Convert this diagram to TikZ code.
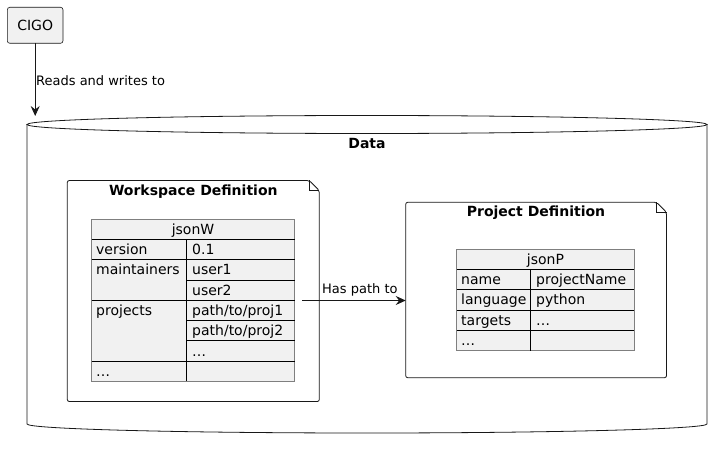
\documentclass[tikz,border=0pt]{standalone}
\usepackage{fontspec}
\setmainfont{DejaVu Sans}
\usetikzlibrary{arrows.meta}
\definecolor{boxfill}{HTML}{F1F1F1}
\definecolor{edge}{HTML}{181818}
\definecolor{tgray}{HTML}{7F7F7F}
\tikzset{
  boxstyle/.style={draw=edge,fill=boxfill,rounded corners=2.5pt,line width=0.6pt},
  notestyle/.style={draw=edge,fill=white,line width=0.8pt,rounded corners=2pt},
  txt/.style={font=\fontsize{14}{16}\selectfont,inner sep=0pt,text=black},
  lbl/.style={font=\fontsize{13}{15}\selectfont,inner sep=0pt,text=black},
  ttl/.style={font=\fontsize{14}{16}\selectfont\bfseries,inner sep=0pt,anchor=base},
  cellL/.style={txt,anchor=base west},
  cellC/.style={txt,anchor=base},
  conn/.style={draw=edge,line width=0.8pt,-{Stealth[length=10pt,width=9pt,inset=3.5pt]}},
  tline/.style={draw=black,line width=0.7pt},
}
\begin{document}
\begin{tikzpicture}[x=1pt,y=-1pt]
\useasboundingbox (0,0) rectangle (722,449);
% CIGO
\draw[boxstyle] (7.3,7.3) rectangle (63,43.3);
\node[txt] (cigo) at (35.2,25.3) {CIGO};
\coordinate (cigoS) at (35.2,43.3);
% cylinder
\draw[draw=edge,fill=white,line width=0.8pt] (27,124.5) -- (27,424) arc[start angle=180,end angle=360,x radius=340pt,y radius=9pt] -- (707,124.5);
\draw[draw=edge,fill=white,line width=0.8pt] (367,124.5) ellipse[x radius=340pt,y radius=9pt];
\coordinate (dataN) at (35.2,116);
\node[ttl] (data) at (367,149) {Data};
% arrow CIGO -> Data
\draw[conn] (cigoS) -- (dataN);
\node[lbl,anchor=base west] (rw) at (36,85.5) {Reads and writes to};
% Workspace note
\draw[notestyle] (67.3,180.5) -- (309.3,180.5) -- (319.3,190.5) -- (319.3,401.5) -- (67.3,401.5) -- cycle;
\draw[draw=edge,line width=0.8pt] (309.3,180.5) -- (309.3,190.5) -- (319.3,190.5);
\node[ttl] (wsT) at (193.3,195) {Workspace Definition};
\coordinate (ws) at (193.3,291);
% jsonW table
\draw[fill=boxfill,draw=tgray,line width=0.8pt] (91.5,219.3) rectangle (294.5,381.3);
\draw[tline] (91.5,239.3) -- (294.5,239.3);
\draw[tline] (91.5,259.3) -- (294.5,259.3);
\draw[tline] (186.5,280) -- (294.5,280);
\draw[tline] (91.5,300) -- (294.5,300);
\draw[tline] (186.5,320.7) -- (294.5,320.7);
\draw[tline] (186.5,340.7) -- (294.5,340.7);
\draw[tline] (91.5,361.3) -- (294.5,361.3);
\draw[tline] (186.5,239.3) -- (186.5,381.3);
\node[cellC] (jw) at (193,234.3) {jsonW};
\node[cellL] (w1) at (96,254.3) {version};
\node[cellL] (w2) at (192,254.3) {0.1};
\node[cellL] (w3) at (96,274.6) {maintainers};
\node[cellL] (w4) at (192,274.6) {user1};
\node[cellL] (w5) at (192,295) {user2};
\node[cellL] (w6) at (96,315.3) {projects};
\node[cellL] (w7) at (192,315.3) {path/to/proj1};
\node[cellL] (w8) at (192,335.7) {path/to/proj2};
\node[cellL] (w9) at (192,356) {…};
\node[cellL] (w10) at (96,376.3) {…};
% Project note
\draw[notestyle] (405.7,202.3) -- (656.5,202.3) -- (666.5,212.3) -- (666.5,377.7) -- (405.7,377.7) -- cycle;
\draw[draw=edge,line width=0.8pt] (656.5,202.3) -- (656.5,212.3) -- (666.5,212.3);
\node[ttl] (pjT) at (536,216.7) {Project Definition};
\coordinate (pjW) at (405.7,300.5);
% jsonP table
\draw[fill=boxfill,draw=tgray,line width=0.8pt] (456.7,249.3) rectangle (634.3,350.7);
\draw[tline] (456.7,269) -- (634.3,269);
\draw[tline] (456.7,289.3) -- (634.3,289.3);
\draw[tline] (456.7,310) -- (634.3,310);
\draw[tline] (456.7,330) -- (634.3,330);
\draw[tline] (530.3,269) -- (530.3,350.7);
\node[cellC] (jp) at (545.5,264) {jsonP};
\node[cellL] (p1) at (461,284) {name};
\node[cellL] (p2) at (536,284) {projectName};
\node[cellL] (p3) at (461,304.6) {language};
\node[cellL] (p4) at (536,304.6) {python};
\node[cellL] (p5) at (461,325) {targets};
\node[cellL] (p6) at (536,325) {…};
\node[cellL] (p7) at (461,345.3) {…};
% arrow ws -> project
\coordinate (wsE) at (302,300.5);
\draw[conn] (wsE) -- (pjW);
\node[lbl,anchor=base west] (hp) at (322,293) {Has path to};
\end{tikzpicture}
\end{document}
